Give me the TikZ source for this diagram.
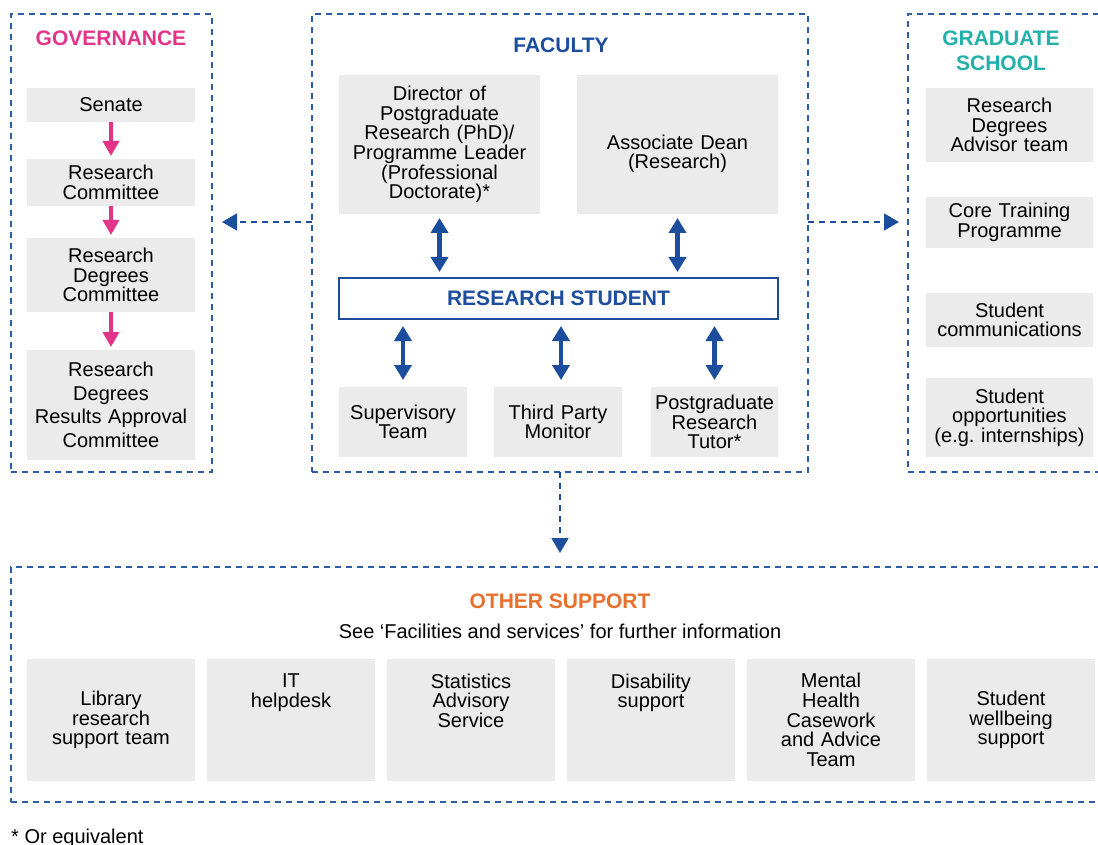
\documentclass[tikz,border=0pt]{standalone}
\usepackage{fontspec}
\setmainfont{Liberation Sans}
\usetikzlibrary{positioning, arrows.meta}

\definecolor{dashblue}{HTML}{2E5DA8}
\definecolor{arrowblue}{HTML}{1C4E9D}
\definecolor{boxgray}{HTML}{EBEBEB}
\definecolor{govpink}{HTML}{E2358A}
\definecolor{gradteal}{HTML}{22B0AA}
\definecolor{otherorange}{HTML}{E8702C}

\newcommand{\bxfont}{\fontsize{20}{19.6}\selectfont}
\newcommand{\ttlfont}{\fontsize{21}{25}\selectfont\bfseries}

\begin{document}
\begin{tikzpicture}[
    x=1pt, y=-1pt,
    frame/.style n args={2}{draw=dashblue, line width=1.5pt, dash pattern=on 6pt off 5pt,
        inner sep=0pt, outer sep=0pt, minimum width=#1pt, minimum height=#2pt, anchor=north west},
    gbox/.style n args={2}{fill=boxgray, inner sep=0pt, outer sep=0pt, text width=#1pt,
        minimum height=#2pt, align=center, anchor=north west, font=\bxfont},
    pinkarrow/.style={draw=govpink, line width=3.5pt, -{Triangle[length=15pt, width=16pt]}, shorten >=3pt},
    dblarrow/.style={draw=arrowblue, line width=4.5pt,
        {Triangle[length=15pt, width=17pt]}-{Triangle[length=15pt, width=17pt]}},
    dlink/.style={draw=arrowblue, line width=1.5pt, dash pattern=on 6pt off 5pt,
        -{Triangle[length=15pt, width=17pt]}},
    title/.style={font=\ttlfont, align=center}
]
    \useasboundingbox (0,0) rectangle (1098,845);
    \clip (0,0) rectangle (1098,845);

    % Frames
    \node[frame={201}{458}] (gov) at (11,14) {};
    \node[frame={496}{458}] (fac) at (312,14) {};
    \node[frame={202}{458}] (grad) at (908,14) {};
    \node[frame={1098}{235}] (other) at (11,567) {};

    % Governance
    \node[title, text=govpink] (govtitle) at (111,38) {GOVERNANCE};
    \node[gbox={168}{34}] (senate) at (27,88) {Senate};
    \node[gbox={168}{47}] (rc) at (27,159) {Research\\Committee};
    \node[gbox={168}{74}] (rdc) at (27,238) {Research\\Degrees\\Committee};
    \node[gbox={168}{110}, font=\fontsize{20}{23.5}\selectfont] (rdrac) at (27,350)
        {Research\\Degrees\\Results Approval\\Committee};

    \draw[pinkarrow] (senate) -- (rc);
    \draw[pinkarrow] (rc) -- (rdc);
    \draw[pinkarrow] (rdc) -- (rdrac);

    % Faculty
    \node[title, text=arrowblue] (factitle) at (561,45) {FACULTY};
    \node[gbox={201}{139}] (dir) at (339,75)
        {Director of\\Postgraduate\\Research (PhD)/\\Programme Leader\\(Professional\\Doctorate)*};
    \node[gbox={201}{139}] (assoc) at (577,75) {\rule{0pt}{33pt}Associate Dean\\(Research)};
    \node[draw=arrowblue, line width=2pt, fill=white, inner sep=0pt, outer sep=0pt,
          minimum width=439pt, minimum height=41pt, anchor=north west,
          font=\ttlfont, text=arrowblue] (stud) at (339,278) {RESEARCH STUDENT};
    \node[gbox={128}{70}] (sup) at (339,387) {Supervisory\\Team};
    \node[gbox={128}{70}] (tpm) at (494,387) {Third Party\\Monitor};
    \node[gbox={127}{70}] (tutor) at (651,387) {Postgraduate\\Research\\Tutor*};

    \draw[dblarrow, shorten <=4pt, shorten >=6pt] (dir.south) -- (dir.south |- stud.north);
    \draw[dblarrow, shorten <=4pt, shorten >=6pt] (assoc.south) -- (assoc.south |- stud.north);
    \draw[dblarrow, shorten <=7pt, shorten >=7pt] (sup.north |- stud.south) -- (sup.north);
    \draw[dblarrow, shorten <=7pt, shorten >=7pt] ([xshift=3pt]tpm.north |- stud.south) -- ([xshift=3pt]tpm.north);
    \draw[dblarrow, shorten <=7pt, shorten >=7pt] (tutor.north |- stud.south) -- (tutor.north);

    % Graduate school
    \node[title, text=gradteal] (gradtitle) at (1001,51) {GRADUATE\\SCHOOL};
    \node[gbox={167}{74}] (rda) at (926,88) {Research\\Degrees\\Advisor team};
    \node[gbox={167}{51}] (core) at (926,197) {Core Training\\Programme};
    \node[gbox={167}{54}] (comms) at (926,293) {Student\\communications};
    \node[gbox={167}{79}] (opps) at (926,378) {Student\\opportunities\\(e.g.\ internships)};

    % Links between frames
    \coordinate (midrow) at (0,222);
    \draw[dlink, shorten >=10pt] (fac.west |- midrow) -- (gov.east |- midrow);
    \draw[dlink, shorten >=9pt] (fac.east |- midrow) -- (grad.west |- midrow);
    \draw[dlink, shorten >=14pt] (fac.south) -- (other.north);

    % Other support
    \node[title, text=otherorange] (othertitle) at (560,601) {OTHER SUPPORT};
    \node[font=\bxfont] (othernote) at (560,631) {See ‘Facilities and services’ for further information};
    \node[gbox={168}{122}] (lib) at (27,659) {Library\\research\\support team};
    \node[gbox={168}{122}] (it) at (207,659) {IT\\helpdesk\\~\\~\\~};
    \node[gbox={168}{122}] (stats) at (387,659) {Statistics\\Advisory\\Service\\~\\~};
    \node[gbox={168}{122}] (dis) at (567,659) {Disability\\support\\~\\~\\~};
    \node[gbox={168}{122}] (mental) at (747,659) {Mental\\Health\\Casework\\and Advice\\Team};
    \node[gbox={168}{122}] (well) at (927,659) {Student\\wellbeing\\support};

    % Footnote
    \node[font=\bxfont, anchor=base west, inner sep=0pt] (note) at (11,843) {* Or equivalent};
\end{tikzpicture}
\end{document}
